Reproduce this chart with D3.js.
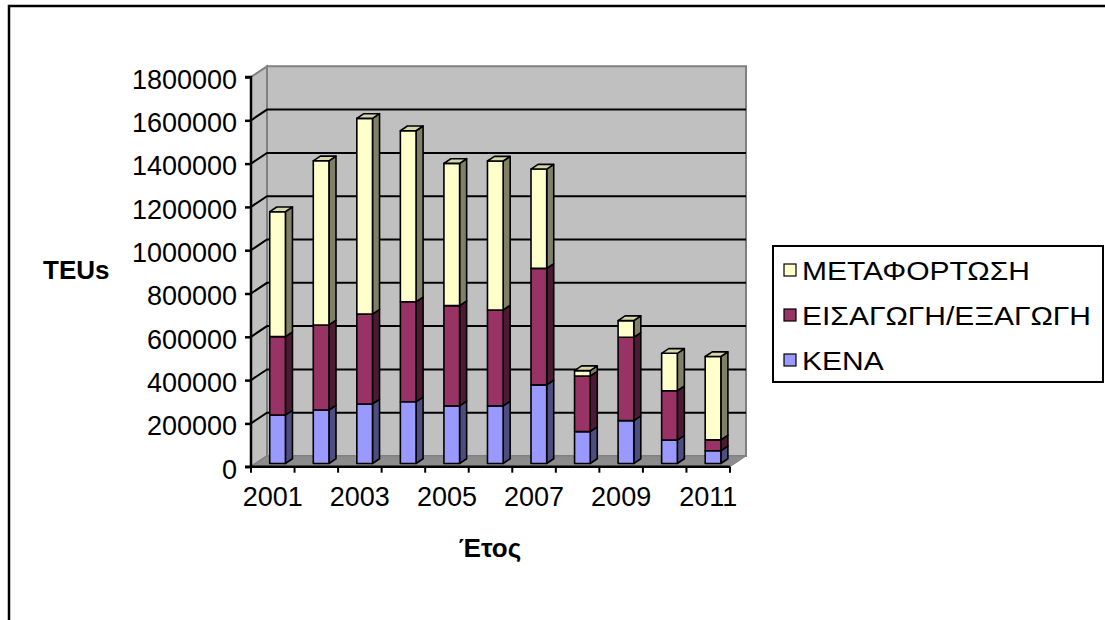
<!DOCTYPE html>
<html>
<head>
<meta charset="utf-8">
<script src="https://cdn.jsdelivr.net/npm/d3@7"></script>
<style>
  html, body { margin: 0; padding: 0; background: #fff; }
  svg text { font-family: "Liberation Sans", Arial, sans-serif; fill: #000; }
</style>
</head>
<body>
<svg id="chart" width="1105" height="620"></svg>
<script>
// TEUs per year, split by traffic type (stacked bottom to top: ΚΕΝΑ, ΕΙΣΑΓΩΓΗ/ΕΞΑΓΩΓΗ, ΜΕΤΑΦΟΡΤΩΣΗ)
const years = ["2001", "2002", "2003", "2004", "2005", "2006", "2007", "2008", "2009", "2010", "2011"];
const kena = [224000, 247000, 275000, 285000, 266000, 266000, 363000, 147000, 198000, 108000, 59000];
const eisagogiExagogi = [362000, 393000, 415000, 462000, 463000, 443000, 538000, 257000, 385000, 228000, 50000];
const metafortosi = [577000, 758000, 904000, 790000, 657000, 688000, 459000, 25000, 77000, 173000, 385000];

const seriesNames = ["ΚΕΝΑ", "ΕΙΣΑΓΩΓΗ/ΕΞΑΓΩΓΗ", "ΜΕΤΑΦΟΡΤΩΣΗ"];
const legendOrder = ["ΜΕΤΑΦΟΡΤΩΣΗ", "ΕΙΣΑΓΩΓΗ/ΕΞΑΓΩΓΗ", "ΚΕΝΑ"];
const yTickValues = [0, 200000, 400000, 600000, 800000, 1000000, 1200000, 1400000, 1600000, 1800000];
const yTickLabels = ["0", "200000", "400000", "600000", "800000", "1000000", "1200000", "1400000", "1600000", "1800000"];
const yTitle = "TEUs";
const xTitle = "Έτος";

// face colours: front, side, top
const palette = {
  "ΚΕΝΑ": { front: "#9999FF", side: "#4D4D80", top: "#7A7ACC" },
  "ΕΙΣΑΓΩΓΗ/ΕΞΑΓΩΓΗ": { front: "#993366", side: "#4D1A33", top: "#7A2952" },
  "ΜΕΤΑΦΟΡΤΩΣΗ": { front: "#FFFFCC", side: "#808066", top: "#D6D6AD" }
};

const svg = d3.select("#chart");

// outer chart frame
svg.append("path")
  .attr("d", "M9,620 L9,6 L1105,6")
  .attr("fill", "none").attr("stroke", "#000").attr("stroke-width", 2.5);

// plot geometry: front plane and depth offset of the 3D box
const x = d3.scaleBand().domain(years).range([251, 730]).paddingInner(0).paddingOuter(0);
const y = d3.scaleLinear().domain([0, 1800000]).range([466.7, 77]);
const DX = 16, DY = -10.7;           // offset from front plane to back wall
const P = (px, py, d) => [px + d * DX, py + d * DY];
const poly = pts => "M" + pts.map(p => p.join(",")).join("L") + "Z";

const x0 = x.range()[0], x1 = x.range()[1];
const yTop = y(1800000), yBase = y(0);

// left side wall
svg.append("path")
  .attr("d", poly([P(x0, yTop, 0), P(x0, yTop, 1), P(x0, yBase, 1), P(x0, yBase, 0)]))
  .attr("fill", "#C0C0C0").attr("stroke", "#808080").attr("stroke-width", 2);
// back wall
svg.append("path")
  .attr("d", poly([P(x0, yTop, 1), P(x1, yTop, 1), P(x1, yBase, 1), P(x0, yBase, 1)]))
  .attr("fill", "#C0C0C0").attr("stroke", "#808080").attr("stroke-width", 2);
// floor
svg.append("path")
  .attr("d", poly([P(x0, yBase, 0), P(x1, yBase, 0), P(x1, yBase, 1), P(x0, yBase, 1)]))
  .attr("fill", "#8C8C8C").attr("stroke", "#808080").attr("stroke-width", 1);

// gridlines on the side wall and back wall
const innerTicks = yTickValues.filter(v => v > 0 && v < 1800000);
const grid = svg.append("g").attr("stroke", "#000").attr("stroke-width", 2).attr("fill", "none");
innerTicks.forEach(v => {
  const a = P(x0, y(v), 0), b = P(x0, y(v), 1), c = P(x1, y(v), 1);
  grid.append("path").attr("d", "M" + a + "L" + b + "L" + c);
});

// stacked 3D columns
const table = years.map((yr, i) => ({
  year: yr,
  "ΚΕΝΑ": kena[i],
  "ΕΙΣΑΓΩΓΗ/ΕΞΑΓΩΓΗ": eisagogiExagogi[i],
  "ΜΕΤΑΦΟΡΤΩΣΗ": metafortosi[i]
}));
const stacked = d3.stack().keys(seriesNames)(table);

const barW = x.bandwidth() * 0.36;
const dFront = 0.3, dBack = 0.74;
const bars = svg.append("g").attr("stroke", "#000").attr("stroke-width", 1.6).attr("stroke-linejoin", "round");

years.forEach((yr, i) => {
  const left = x(yr) + (x.bandwidth() - barW) / 2;
  const right = left + barW;
  stacked.forEach((layer, li) => {
    const [v0, v1] = layer[i];
    if (v1 - v0 <= 0) return;
    const col = palette[layer.key];
    const yt = y(v1), yb = y(v0);
    // side face
    bars.append("path")
      .attr("d", poly([P(right, yt, dFront), P(right, yt, dBack), P(right, yb, dBack), P(right, yb, dFront)]))
      .attr("fill", col.side);
    // front face
    bars.append("path")
      .attr("d", poly([P(left, yt, dFront), P(right, yt, dFront), P(right, yb, dFront), P(left, yb, dFront)]))
      .attr("fill", col.front);
    // top face on the uppermost segment
    if (li === stacked.length - 1) {
      bars.append("path")
        .attr("d", poly([P(left, yt, dFront), P(right, yt, dFront), P(right, yt, dBack), P(left, yt, dBack)]))
        .attr("fill", col.top);
    }
  });
});

// value axis on the front edge
const yAxis = d3.axisLeft(y)
  .tickValues(yTickValues)
  .tickFormat((d, i) => yTickLabels[i])
  .tickSize(6).tickPadding(8);
const yg = svg.append("g").attr("transform", `translate(${x0},0)`).call(yAxis);
yg.select(".domain").attr("stroke", "#000").attr("stroke-width", 2.5).attr("d", `M-6,${yTop}H0V${yBase}H-6`);
yg.selectAll(".tick line").attr("stroke", "#000").attr("stroke-width", 2.5);
yg.selectAll(".tick text").attr("font-size", 27).attr("dy", "0.42em")
  .style("font-family", "'Liberation Sans', Arial, sans-serif");

// category axis along the front floor edge
const xg = svg.append("g");
xg.append("line").attr("x1", x0).attr("x2", x1).attr("y1", yBase).attr("y2", yBase)
  .attr("stroke", "#000").attr("stroke-width", 2.5);
const bounds = years.map(yr => x(yr)).concat([x1]);
xg.selectAll("line.tk").data(bounds).enter().append("line").attr("class", "tk")
  .attr("x1", d => d).attr("x2", d => d).attr("y1", yBase).attr("y2", yBase + 6)
  .attr("stroke", "#000").attr("stroke-width", 2);
xg.selectAll("text").data(years.filter((d, i) => i % 2 === 0)).enter().append("text")
  .attr("x", d => x(d) + x.bandwidth() / 2)
  .attr("y", 506)
  .attr("text-anchor", "middle").attr("font-size", 27)
  .text(d => d);

// axis titles
svg.append("text").attr("x", 43).attr("y", 279).attr("font-size", 26).attr("font-weight", "bold").text(yTitle);
svg.append("text").attr("x", 490).attr("y", 557).attr("text-anchor", "middle")
  .attr("font-size", 26).attr("font-weight", "bold").text(xTitle);

// legend
const lg = svg.append("g");
lg.append("rect").attr("x", 773).attr("y", 246).attr("width", 330).attr("height", 136)
  .attr("fill", "#fff").attr("stroke", "#000").attr("stroke-width", 2);
const legendRows = lg.selectAll("g.row").data(legendOrder).enter().append("g").attr("class", "row")
  .attr("transform", (d, i) => `translate(784,${280 + i * 45})`);
legendRows.append("rect").attr("x", 0).attr("y", -16).attr("width", 12).attr("height", 12)
  .attr("fill", d => palette[d].front).attr("stroke", "#000").attr("stroke-width", 1.2);
legendRows.append("text").attr("x", 18).attr("y", 0).attr("font-size", 25)
  .text(d => d)
  .each(function () {
    const w = this.getComputedTextLength();
    d3.select(this).attr("textLength", w * 1.2).attr("lengthAdjust", "spacingAndGlyphs");
  });
</script>
</body>
</html>
